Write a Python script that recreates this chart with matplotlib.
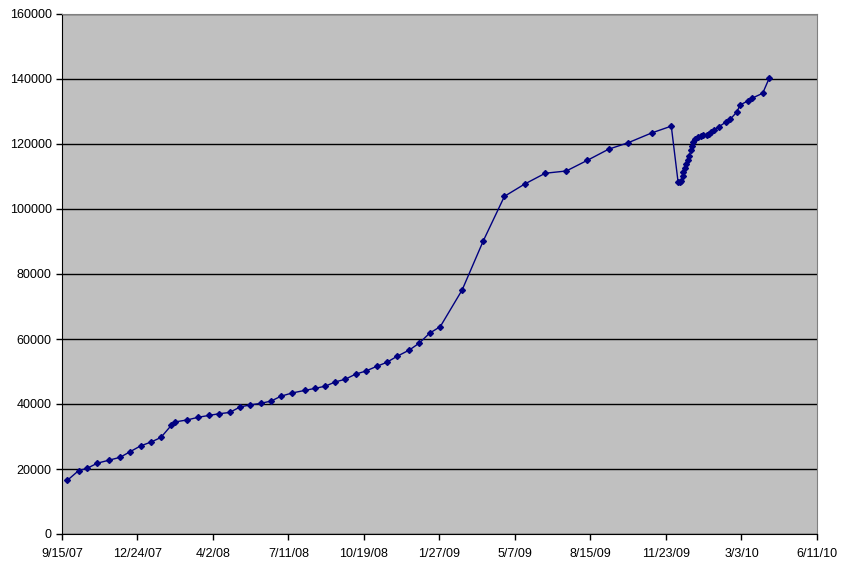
import matplotlib
matplotlib.use("Agg")
import matplotlib.pyplot as plt
import matplotlib.dates as mdates
import numpy as np
import pandas as pd

# days since 9/15/07, and the value
days = [7, 22, 33, 47, 62, 77, 90, 104, 118, 131, 145, 150, 166, 180, 195, 208,
        222, 236, 249, 263, 277, 290, 305, 322, 335, 349, 362, 375, 389, 402,
        417, 430, 444, 460, 473, 487, 501, 530, 558, 586, 613, 640, 668, 696,
        724, 750, 781, 807, 816, 818, 820, 822, 823, 825, 827, 829, 831, 833,
        834, 836, 839, 843, 846, 849, 854, 857, 860, 863, 870, 879, 885, 894,
        898, 908, 914, 928, 937]
values = [16500, 19500, 20200, 21800, 22700, 23600, 25300, 27100, 28300, 29700,
          33500, 34500, 35100, 35900, 36500, 37000, 37400, 39100, 39700, 40200,
          40900, 42400, 43400, 44200, 44800, 45500, 46800, 47600, 49200, 50100,
          51600, 52800, 54700, 56600, 58700, 61800, 63800, 75100, 90200, 103900,
          107700, 111000, 111700, 115000, 118400, 120400, 123400, 125500, 108300,
          108400, 108600, 110200, 111500, 112500, 113800, 115100, 116400, 118200,
          119400, 120700, 121500, 122300, 122600, 122800, 122900, 123100, 123700,
          124200, 125300, 126700, 127600, 129900, 132000, 133200, 134100, 135600,
          140400]

start = pd.Timestamp("2007-09-15")
dates = start + pd.to_timedelta(days, unit="D")
tick_dates = [start + pd.Timedelta(days=100 * i) for i in range(11)]
tick_labels = ["9/15/07", "12/24/07", "4/2/08", "7/11/08", "10/19/08", "1/27/09",
               "5/7/09", "8/15/09", "11/23/09", "3/3/10", "6/11/10"]

plt.rcParams["font.family"] = ["Liberation Sans", "DejaVu Sans"]

fig = plt.figure(figsize=(8.44, 5.65), dpi=100)
ax = fig.add_axes([62 / 844, 31 / 565, 755 / 844, 520 / 565])
ax.set_facecolor("#c0c0c0")

ax.plot(dates, values, color="#000080", lw=1, marker="D", ms=3,
        mfc="#000080", mec="#000080")

ax.set_xlim(tick_dates[0], tick_dates[-1])
ax.set_xticks(tick_dates)
ax.set_xticklabels(tick_labels)
ax.set_ylim(0, 160000)
ax.set_yticks(np.arange(0, 160001, 20000))
ax.yaxis.grid(True, color="black", lw=1)
ax.set_axisbelow(True)

ax.tick_params(direction="out", length=4, width=1, labelsize=9, colors="black")
ax.tick_params(axis="x", pad=6)
for s in ["top", "right"]:
    ax.spines[s].set_color("#808080")
for s in ["left", "bottom"]:
    ax.spines[s].set_color("black")

fig.savefig("out.png", dpi=100)
